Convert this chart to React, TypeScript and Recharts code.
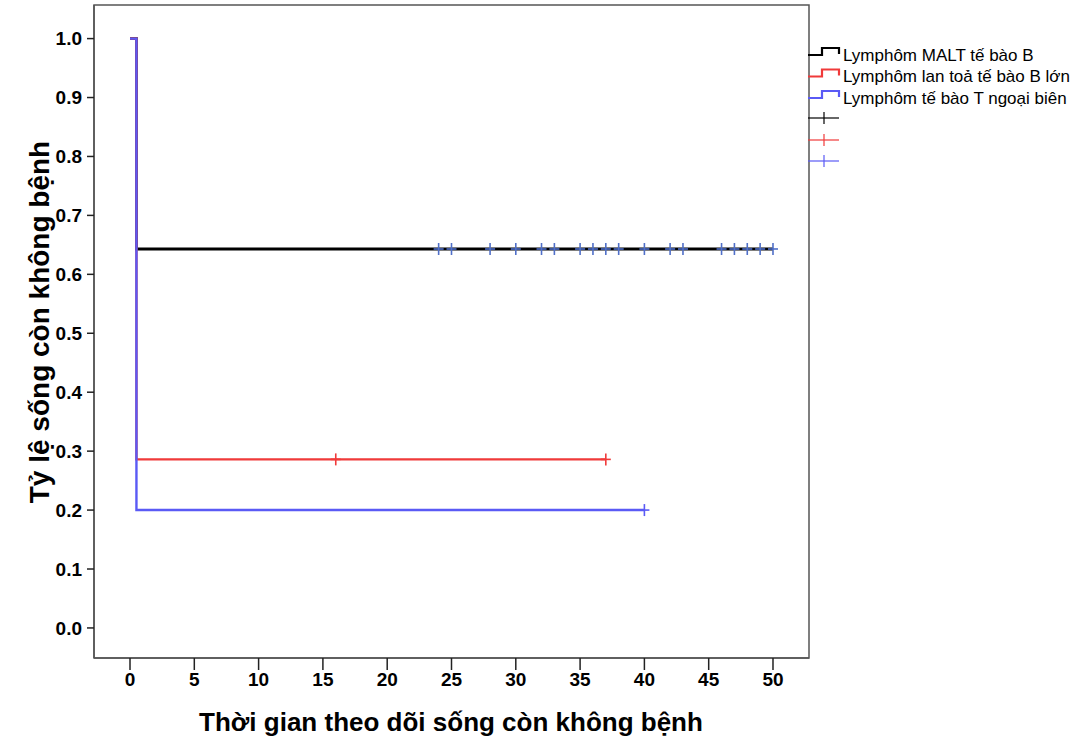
import React from 'react';
import { ComposedChart, Line, Scatter, XAxis, YAxis, ReferenceArea } from 'recharts';

// Kaplan-Meier steps (time in months, proportion disease-free)
const maltTimes = [0, 0.5, 50];
const maltSurv = [1, 0.643, 0.643];
const dlbclTimes = [0, 0.5, 37];
const dlbclSurv = [1, 0.286, 0.286];
const ptclTimes = [0, 0.5, 40];
const ptclSurv = [1, 0.2, 0.2];

// censored observations
const maltCensored = [24, 25, 28, 30, 32, 33, 35, 36, 37, 38, 40, 42, 43, 46, 47, 48, 49, 50];
const dlbclCensored = [16, 37];
const ptclCensored = [40];

const seriesNames = ['Lymphôm MALT tế bào B', 'Lymphôm lan toả tế bào B lớn', 'Lymphôm tế bào T ngoại biên'];
const xTicks = [0, 5, 10, 15, 20, 25, 30, 35, 40, 45, 50];
const yTicks = [0, 0.1, 0.2, 0.3, 0.4, 0.5, 0.6, 0.7, 0.8, 0.9, 1.0];

const BLACK = '#000000';
const RED = '#f03a3a';
const BLUE = '#5a5af5';
const CENSOR_ON_BLACK = '#4f6fc8';
const FONT = 'Arial, "Liberation Sans", sans-serif';

const xDomain: [number, number] = [-2.8, 52.8];
const yDomain: [number, number] = [-0.051, 1.057];

const toPoints = (times: number[], surv: number[]) => times.map((t, i) => ({ t, s: surv[i] }));
const censorPoints = (times: number[], level: number) => times.map((t) => ({ t, s: level }));

const maltData = toPoints(maltTimes, maltSurv);
const dlbclData = toPoints(dlbclTimes, dlbclSurv);
const ptclData = toPoints(ptclTimes, ptclSurv);

const makeCross = (color: string) => (props: any) => {
  const { cx, cy } = props;
  return (
    <g>
      <line x1={cx - 5} x2={cx + 5} y1={cy} y2={cy} stroke={color} strokeWidth={1.6} />
      <line x1={cx} x2={cx} y1={cy - 6} y2={cy + 6} stroke={color} strokeWidth={1.6} />
    </g>
  );
};

const LegendBox = () => {
  const colors = [BLACK, RED, BLUE];
  const rowY = [55, 76.5, 98, 118, 140, 161];
  return (
    <svg width={273} height={175} style={{ position: 'absolute', left: 806, top: 0 }}>
      {colors.map((c, i) => {
        const y = rowY[i];
        return (
          <g key={'s' + i}>
            <path d={`M2 ${y} H16 V${y - 7} H33 V${y - 1}`} fill="none" stroke={c} strokeWidth={2.2} />
            <text x={37} y={y} dominantBaseline="central" fontFamily={FONT} fontSize={17} fill="#000">
              {seriesNames[i]}
            </text>
          </g>
        );
      })}
      {colors.map((c, i) => {
        const y = rowY[i + 3];
        return (
          <g key={'c' + i}>
            <line x1={2} x2={33} y1={y} y2={y} stroke={c} strokeWidth={1.2} />
            <line x1={18} x2={18} y1={y - 6} y2={y + 6} stroke={c} strokeWidth={1.2} />
          </g>
        );
      })}
    </svg>
  );
};

const App = () => {
  return (
    <div style={{ position: 'absolute', left: 0, top: 0, width: 1079, height: 742, background: '#fff' }}>
      <ComposedChart width={1079} height={742} margin={{ top: 5, right: 270, bottom: 0, left: 0 }}>
        <XAxis
          type="number"
          dataKey="t"
          domain={xDomain}
          ticks={xTicks}
          allowDataOverflow
          height={84}
          tickSize={12}
          tickMargin={3}
          axisLine={{ stroke: '#555', strokeWidth: 1.5 }}
          tickLine={{ stroke: '#222', strokeWidth: 1.5 }}
          tick={{ fill: '#000', fontFamily: FONT, fontSize: 19, fontWeight: 'bold' }}
          label={(p: any) => {
            const vb = p.viewBox;
            return (
              <text x={451} y={722} textAnchor="middle" dominantBaseline="central"
                fontFamily={FONT} fontSize={26} fontWeight="bold" fill="#000">
                Thời gian theo dõi sống còn không bệnh
              </text>
            );
          }}
        />
        <YAxis
          type="number"
          dataKey="s"
          domain={yDomain}
          ticks={yTicks}
          allowDataOverflow
          width={94}
          tickSize={7}
          tickMargin={5}
          tickFormatter={(v: number) => v.toFixed(1)}
          axisLine={{ stroke: '#555', strokeWidth: 1.5 }}
          tickLine={{ stroke: '#222', strokeWidth: 1.5 }}
          tick={{ fill: '#000', fontFamily: FONT, fontSize: 19, fontWeight: 'bold' }}
          label={() => (
            <text x={39} y={322} textAnchor="middle" dominantBaseline="central" transform="rotate(-90 39 322)"
              fontFamily={FONT} fontSize={28} fontWeight="bold" fill="#000">
              Tỷ lệ sống còn không bệnh
            </text>
          )}
        />
        <ReferenceArea x1={xDomain[0]} x2={xDomain[1]} y1={yDomain[0]} y2={yDomain[1]}
          fill="none" stroke="#555" strokeWidth={1.5} ifOverflow="visible" />
        <Line data={maltData} dataKey="s" type="stepAfter" stroke={BLACK} strokeWidth={2.8} dot={false}
          isAnimationActive={false} name={seriesNames[0]} />
        <Line data={dlbclData} dataKey="s" type="stepAfter" stroke={RED} strokeWidth={2.4} dot={false}
          isAnimationActive={false} name={seriesNames[1]} />
        <Line data={ptclData} dataKey="s" type="stepAfter" stroke={BLUE} strokeWidth={2.4} dot={false}
          isAnimationActive={false} name={seriesNames[2]} />
        <Scatter data={censorPoints(maltCensored, maltSurv[1])} dataKey="s" shape={makeCross(CENSOR_ON_BLACK)}
          isAnimationActive={false} />
        <Scatter data={censorPoints(dlbclCensored, dlbclSurv[1])} dataKey="s" shape={makeCross(RED)}
          isAnimationActive={false} />
        <Scatter data={censorPoints(ptclCensored, ptclSurv[1])} dataKey="s" shape={makeCross(BLUE)}
          isAnimationActive={false} />
      </ComposedChart>
      <LegendBox />
    </div>
  );
};

export default App;
